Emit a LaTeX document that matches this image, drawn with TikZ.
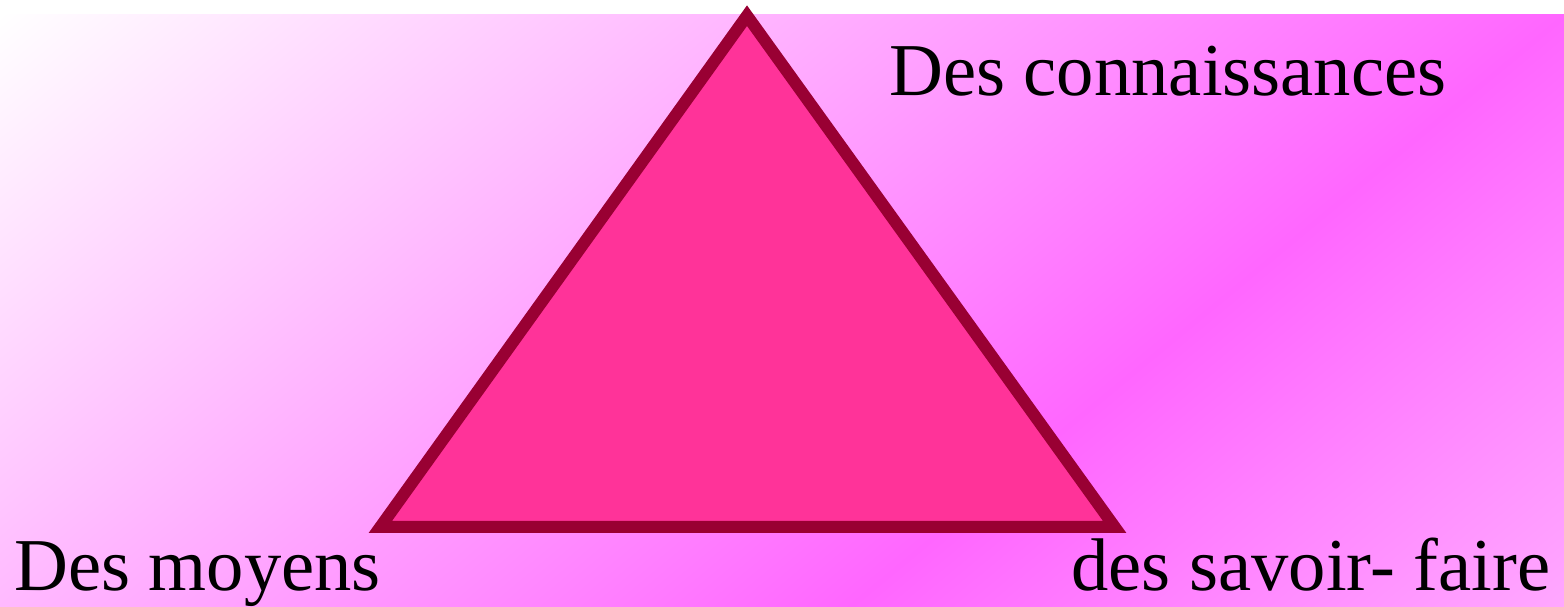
\documentclass[tikz,border=0pt]{standalone}
\usepackage{fontspec}
\setmainfont{Liberation Serif}
\definecolor{bgmag}{HTML}{FF66FF}
\definecolor{bglight}{HTML}{FFAAFF}
\definecolor{trifill}{HTML}{FF3399}
\definecolor{tridraw}{HTML}{990033}
\tikzset{
  lbl/.style={anchor=base west, inner sep=0pt, font=\fontsize{74.6}{80}\selectfont, text=black},
  tri/.style={fill=trifill, draw=tridraw, line width=12pt, line join=miter}
}
\begin{document}
\begin{tikzpicture}[x=1pt,y=1pt]
\useasboundingbox (0,0) rectangle (1564,607);
\fill[white] (0,0) rectangle (1564,607);
\begin{scope}
  \clip (0,0) rectangle (1564,592);
  \begin{scope}[transform canvas={shift={(0,592)}, rotate=39.6}]
    \shade[top color=white, bottom color=bgmag] (-600,-998) rectangle (1400,0);
    \shade[top color=bgmag, bottom color=bglight] (-600,-1470) rectangle (1400,-997);
  \end{scope}
\end{scope}
\coordinate (apex) at (747,591.3);
\coordinate (bl) at (380.3,80);
\coordinate (br) at (1114.7,80);
\draw[tri] (apex) -- (br) -- (bl) -- cycle;
\node[lbl] (kn) at (889,511) {Des connaissances};
\node[lbl] (mo) at (14,16.3) {Des moyens};
\node[lbl] (sf) at (1071,16.3) {des savoir- faire};
\end{tikzpicture}
\end{document}
